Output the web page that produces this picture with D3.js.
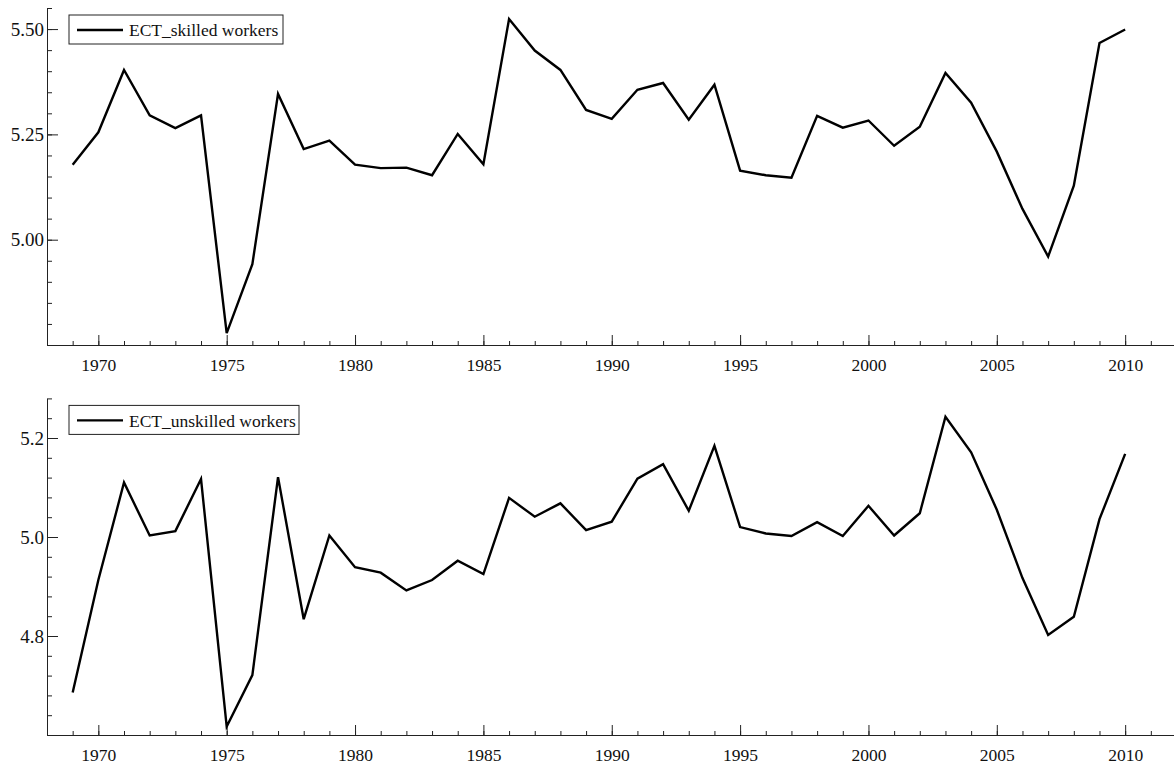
<html>
<head>
	<title>ECT skilled / unskilled workers</title>
	<style>
		body {
			margin:0;
			padding:0;
			background:#fff;
		}
		svg text {
			font-family:"Liberation Serif", "Times New Roman", Times, "DejaVu Serif", serif !important;
			font-size:17.5px;
			fill:#111;
		}
		.domain { stroke:#222; }
		.tick line { stroke:#222; }
	</style>
</head>
<body>

	<svg width="1174" height="767"></svg>

	<script src="https://d3js.org/d3.v7.min.js"></script>
	<script>

		var years = d3.range(1969, 2011);

		var skilled = [5.178, 5.255, 5.403, 5.295, 5.265, 5.295, 4.778, 4.942, 5.346, 5.215,
			5.235, 5.178, 5.170, 5.171, 5.153, 5.251, 5.179, 5.524, 5.449, 5.403,
			5.308, 5.287, 5.356, 5.372, 5.285, 5.368, 5.164, 5.153, 5.147, 5.294,
			5.266, 5.283, 5.223, 5.268, 5.396, 5.325, 5.209, 5.073, 4.960, 5.128,
			5.467, 5.499];

		var unskilled = [4.686, 4.913, 5.110, 5.003, 5.012, 5.117, 4.617, 4.721, 5.121, 4.834,
			5.003, 4.939, 4.928, 4.892, 4.913, 4.952, 4.925, 5.079, 5.041, 5.068,
			5.014, 5.031, 5.118, 5.147, 5.053, 5.184, 5.020, 5.007, 5.002, 5.030,
			5.002, 5.063, 5.003, 5.048, 5.243, 5.171, 5.055, 4.917, 4.802, 4.839,
			5.036, 5.168];

		var seriesNames = ["ECT_skilled workers", "ECT_unskilled workers"];

		var xMajorTicks = [1970, 1975, 1980, 1985, 1990, 1995, 2000, 2005, 2010];
		var topMajorTicks = [5.00, 5.25, 5.50];
		var bottomMajorTicks = [4.8, 5.0, 5.2];

		var svg = d3.select("svg");

		var x = d3.scaleLinear().domain([1968, 2012]).range([47, 1176.5]);

		var panels = [
			{ values: skilled, name: seriesNames[0], domain: [4.75, 5.55], top: 8, bottom: 345,
				major: topMajorTicks, minorStep: 0.05, fmt: d3.format(".2f"), legendW: 214 },
			{ values: unskilled, name: seriesNames[1], domain: [4.6, 5.28], top: 398.4, bottom: 735,
				major: bottomMajorTicks, minorStep: 0.04, fmt: d3.format(".1f"), legendW: 230 }
		];

		panels.forEach(function(p) {

			var y = d3.scaleLinear().domain(p.domain).range([p.bottom, p.top]);

			// minor ticks, y
			var minor = d3.range(p.domain[0], p.domain[1] + 1e-9, p.minorStep);
			svg.append("g")
			.attr("transform", "translate(" + x.range()[0] + ",0)")
			.call(d3.axisLeft(y).tickValues(minor).tickSize(-5).tickFormat(""))
			.select(".domain").remove();

			svg.append("g")
			.attr("transform", "translate(" + x.range()[0] + ",0)")
			.call(d3.axisLeft(y).tickValues(p.major).tickSize(-11).tickSizeOuter(0).tickPadding(3).tickFormat(p.fmt))
			.selectAll("text").style("font-size", "19px");

			// x axis
			svg.append("g")
			.attr("transform", "translate(0," + p.bottom + ")")
			.call(d3.axisBottom(x).tickValues(d3.range(1968, 2013)).tickSize(-4).tickFormat(""))
			.select(".domain").remove();

			svg.append("g")
			.attr("transform", "translate(0," + p.bottom + ")")
			.call(d3.axisBottom(x).tickValues(xMajorTicks).tickSize(-10).tickSizeOuter(0).tickPadding(14).tickFormat(d3.format("d")));

			var line = d3.line()
			.x(function(d, i) { return x(years[i]); })
			.y(function(d) { return y(d); });

			svg.append("path")
			.datum(p.values)
			.attr("d", line)
			.attr("fill", "none")
			.attr("stroke", "#000")
			.attr("stroke-width", 2.4)
			.attr("stroke-linejoin", "miter");

			// legend
			var lg = svg.append("g").attr("transform", "translate(69," + (p.top + 7) + ")");
			lg.append("rect")
			.attr("width", p.legendW)
			.attr("height", 29)
			.attr("fill", "#fff")
			.attr("stroke", "#222")
			.attr("stroke-width", 1);
			lg.append("line")
			.attr("x1", 8).attr("x2", 54)
			.attr("y1", 15).attr("y2", 15)
			.attr("stroke", "#000")
			.attr("stroke-width", 2.4);
			lg.append("text")
			.attr("x", 60)
			.attr("y", 15)
			.attr("dy", "0.35em")
			.text(p.name);
		});

	</script>
</body>
</html>
